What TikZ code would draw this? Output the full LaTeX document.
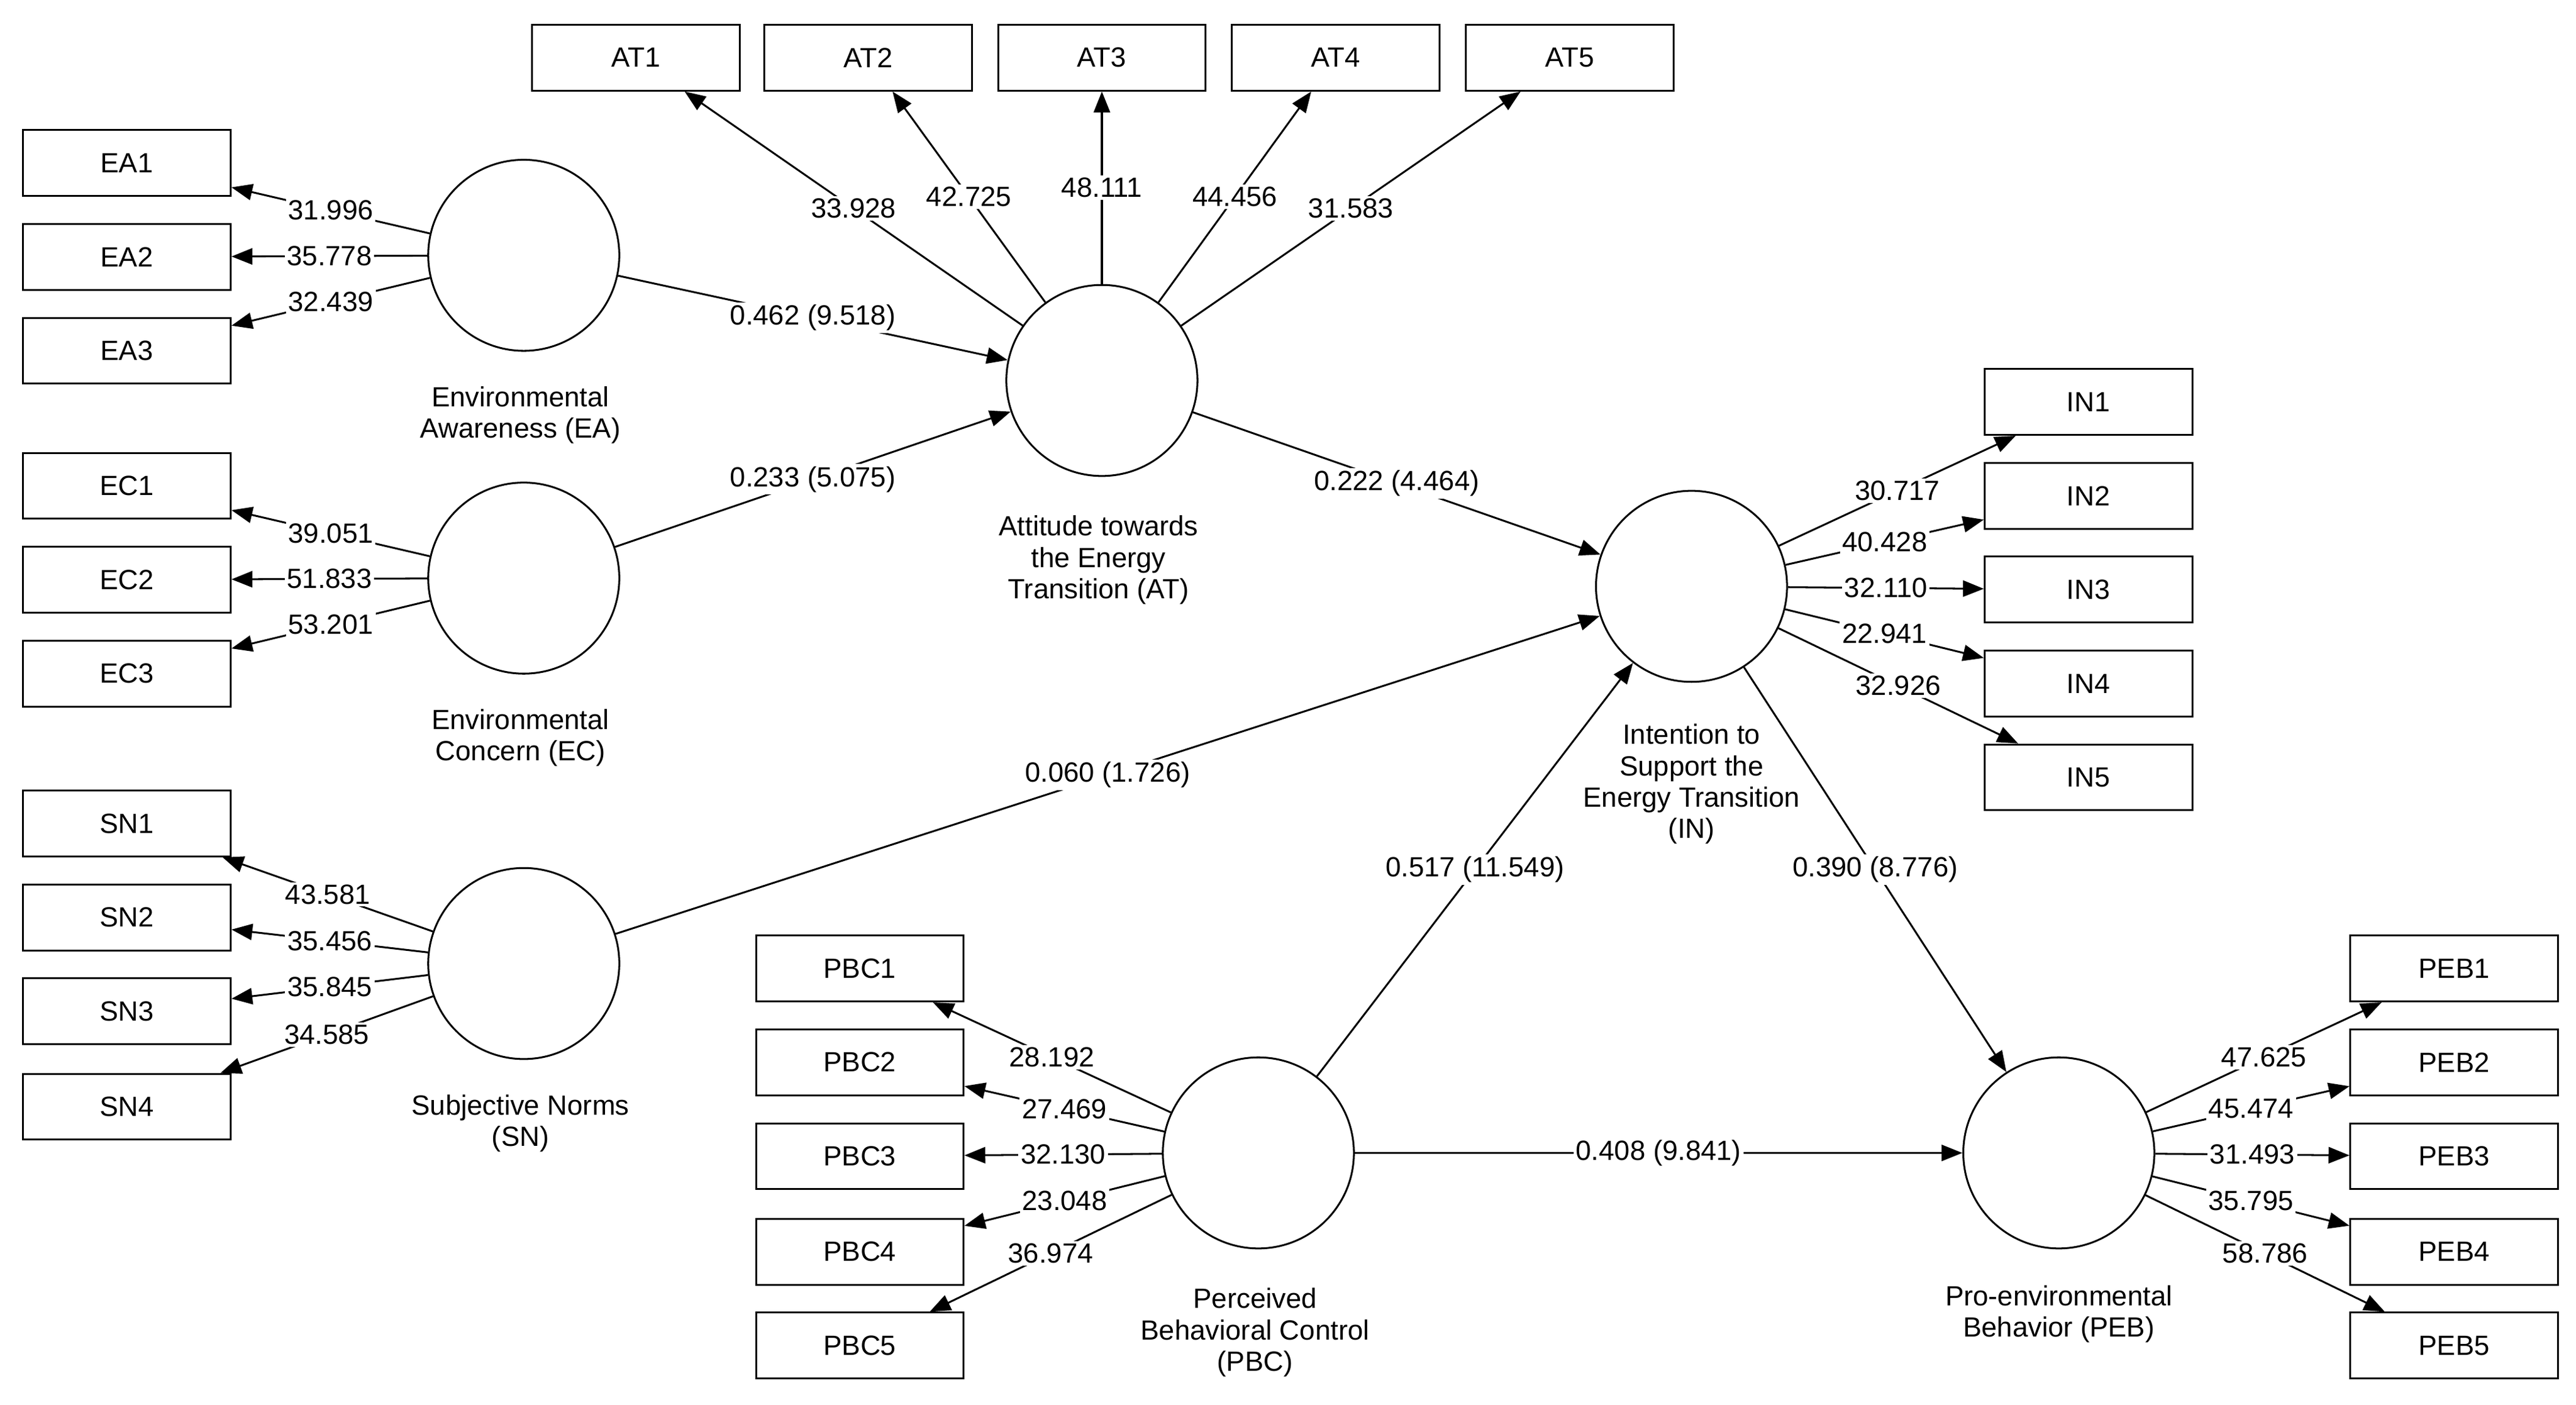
\documentclass[tikz,border=0pt]{standalone}
\usepackage{fontspec}
\setmainfont{Liberation Sans}
\usetikzlibrary{arrows.meta}
\begin{document}
\begin{tikzpicture}[x=0.05cm,y=-0.05cm,
  every node/.style={font=\fontsize{24}{28}\selectfont},
  box/.style={draw,line width=1.6pt,minimum width=6.3cm,minimum height=2cm,inner sep=0pt},
  lv/.style={draw,circle,line width=1.6pt,minimum size=5.8cm,inner sep=0pt},
  arr/.style={line width=1.6pt,-{Triangle[length=18pt,width=14pt]}},
  lab/.style={fill=white,inner sep=2pt},
  lvcap/.style={align=center,font=\fontsize{24}{27}\selectfont}]
\useasboundingbox (0,0) rectangle (1564,853);
% boxes
\foreach \i/\x in {1/386,2/527,3/669,4/811,5/953} \node[box] (AT\i) at (\x,35) {AT\i};
\foreach \i/\y in {1/99,2/156,3/213} \node[box] (EA\i) at (77,\y) {EA\i};
\foreach \i/\y in {1/295,2/352,3/409} \node[box] (EC\i) at (77,\y) {EC\i};
\foreach \i/\y in {1/500,2/557,3/614,4/672} \node[box] (SN\i) at (77,\y) {SN\i};
\foreach \i/\y in {1/588,2/645,3/702,4/760,5/817} \node[box] (PBC\i) at (522,\y) {PBC\i};
\foreach \i/\y in {1/244,2/301,3/358,4/415,5/472} \node[box] (IN\i) at (1268,\y) {IN\i};
\foreach \i/\y in {1/588,2/645,3/702,4/760,5/817} \node[box] (PEB\i) at (1490,\y) {PEB\i};
% latent
\node[lv] (EA) at (318,155) {};
\node[lv] (EC) at (318,351) {};
\node[lv] (SN) at (318,585) {};
\node[lv] (AT) at (669,231) {};
\node[lv] (IN) at (1027,356) {};
\node[lv] (PBC) at (764,700) {};
\node[lv] (PEB) at (1250,700) {};
\node[lvcap] (cEA) at (316,252) {Environmental\\Awareness (EA)};
\node[lvcap] (cEC) at (316,448) {Environmental\\Concern (EC)};
\node[lvcap] (cSN) at (316,682) {Subjective Norms\\(SN)};
\node[lvcap] (cAT) at (667,340) {Attitude towards\\the Energy\\Transition (AT)};
\node[lvcap] (cIN) at (1027,476) {Intention to\\Support the\\Energy Transition\\(IN)};
\node[lvcap] (cPBC) at (762,809) {Perceived\\Behavioral Control\\(PBC)};
\node[lvcap] (cPEB) at (1250,798) {Pro-environmental\\Behavior (PEB)};
% loadings
\foreach \t/\v in {EA1/31.996,EA2/35.778,EA3/32.439} \draw[arr] (EA) -- node[lab,pos=0.5]{\v} (\t);
\foreach \t/\v in {EC1/39.051,EC2/51.833,EC3/53.201} \draw[arr] (EC) -- node[lab,pos=0.5]{\v} (\t);
\foreach \t/\v in {SN1/43.581,SN2/35.456,SN3/35.845,SN4/34.585} \draw[arr] (SN) -- node[lab,pos=0.5]{\v} (\t);
\foreach \t/\v in {AT1/33.928,AT2/42.725,AT3/48.111,AT4/44.456,AT5/31.583} \draw[arr] (AT) -- node[lab,pos=0.5]{\v} (\t);
\foreach \t/\v in {IN1/30.717,IN2/40.428,IN3/32.110,IN4/22.941,IN5/32.926} \draw[arr] (IN) -- node[lab,pos=0.5]{\v} (\t);
\foreach \t/\v in {PBC1/28.192,PBC2/27.469,PBC3/32.130,PBC4/23.048,PBC5/36.974} \draw[arr] (PBC) -- node[lab,pos=0.5]{\v} (\t);
\foreach \t/\v in {PEB1/47.625,PEB2/45.474,PEB3/31.493,PEB4/35.795,PEB5/58.786} \draw[arr] (PEB) -- node[lab,pos=0.5]{\v} (\t);
% structural
\draw[arr] (EA) -- node[lab]{0.462 (9.518)} (AT);
\draw[arr] (EC) -- node[lab]{0.233 (5.075)} (AT);
\draw[arr] (AT) -- node[lab]{0.222 (4.464)} (IN);
\draw[arr] (SN) -- node[lab]{0.060 (1.726)} (IN);
\draw[arr] (PBC) -- node[lab]{0.517 (11.549)} (IN);
\draw[arr] (IN) -- node[lab]{0.390 (8.776)} (PEB);
\draw[arr] (PBC) -- node[lab]{0.408 (9.841)} (PEB);
\end{tikzpicture}
\end{document}
